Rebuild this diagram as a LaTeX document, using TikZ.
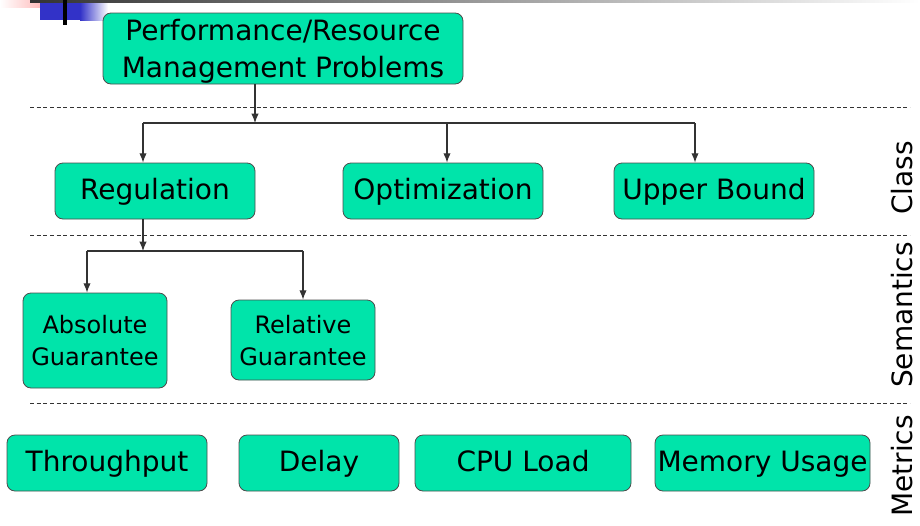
\documentclass[tikz,border=0pt]{standalone}
\usepackage{fontspec}
\setmainfont{DejaVu Sans}
\usetikzlibrary{arrows.meta}
\definecolor{boxGreen}{RGB}{0,228,170}
\definecolor{slideBlue}{RGB}{50,50,200}
\newcommand{\bigText}{\fontsize{21}{28}\selectfont}
\newcommand{\smallText}{\fontsize{18}{24}\selectfont}
\newcommand{\lineLeft}{30}
\newcommand{\lineRight}{910}
\newcommand{\labelX}{902}

\begin{document}
\begin{tikzpicture}[x=0.75pt, y=-0.75pt,
    problem/.style={draw=black!70, line width=0.6pt, fill=boxGreen, rounded corners=6pt,
                    inner sep=0pt, align=center, text depth=0pt, font=\bigText},
    oneline/.style={problem, text height=1.2em},
    subproblem/.style={problem, font=\smallText},
    link/.style={draw=black!80, line width=0.8pt},
    arrowlink/.style={link, -{Latex[length=7pt,width=5.5pt]}},
    divider/.style={draw=black!80, line width=0.6pt, dash pattern=on 3pt off 2pt},
    layer/.style={rotate=90, font=\bigText, inner sep=0pt}]

   \useasboundingbox (0,0) rectangle (920,525);

   % slide decoration, top left
   \shade[left color=white, right color=red!35] (0,0) rectangle (55,7);
   \draw[red!60, line width=0.5pt] (45,0) -- (55,7);
   \shade[left color=black!80, right color=white] (30,0) rectangle (920,2);
   \fill[slideBlue] (40,3) rectangle (80,20);
   \shade[left color=slideBlue, right color=white] (80,3) rectangle (108,20);
   \fill[black] (63,0) rectangle (67,25);

   % class
   \node[problem, minimum width=270pt, minimum height=53.25pt] (problems) at (283,48.5)
        {Performance/Resource\\Management Problems};
   \node[oneline, minimum width=150pt, minimum height=42pt] (regulation) at (155,191) {Regulation};
   \node[oneline, minimum width=150pt, minimum height=42pt] (optimization) at (443,191) {Optimization};
   \node[oneline, minimum width=150pt, minimum height=42pt] (upperbound) at (714,191) {Upper Bound};

   % semantics
   \node[subproblem, minimum width=108pt, minimum height=71.25pt] (absolute) at (95,340.5)
        {Absolute\\Guarantee};
   \node[subproblem, minimum width=108pt, minimum height=60pt] (relative) at (303,340)
        {Relative\\Guarantee};

   % metrics
   \node[oneline, minimum width=150pt, minimum height=42pt] (throughput) at (107,463) {Throughput};
   \node[oneline, minimum width=120pt, minimum height=42pt] (delay) at (319,463) {Delay};
   \node[oneline, minimum width=162pt, minimum height=42pt] (cpuload) at (523,463) {CPU Load};
   \node[oneline, minimum width=161.25pt, minimum height=42pt] (memory) at (762.5,463) {Memory Usage};

   % layer names
   \node[layer] (classlabel) at (\labelX,178) {Class};
   \node[layer] (semanticslabel) at (\labelX,315) {Semantics};
   \node[layer] (metricslabel) at (\labelX,466) {Metrics};

   \draw[divider] (\lineLeft,107) -- (\lineRight,107);
   \draw[divider] (\lineLeft,235) -- (\lineRight,235);
   \draw[divider] (\lineLeft,403) -- (\lineRight,403);

   % tree connectors
   \coordinate (classbus) at (255,123);
   \coordinate (regin) at (143,123);
   \coordinate (optin) at (447,123);
   \coordinate (ubin) at (695,123);
   \draw[arrowlink] (problems.south -| classbus) -- (classbus);
   \draw[link] (regin) -- (ubin);
   \draw[arrowlink] (regin) -- (regin |- regulation.north);
   \draw[arrowlink] (optin) -- (optin |- optimization.north);
   \draw[arrowlink] (ubin) -- (ubin |- upperbound.north);

   \coordinate (semanticsbus) at (143,251);
   \coordinate (absin) at (87,251);
   \coordinate (relin) at (303,251);
   \draw[arrowlink] (regulation.south -| semanticsbus) -- (semanticsbus);
   \draw[link] (absin) -- (relin);
   \draw[arrowlink] (absin) -- (absin |- absolute.north);
   \draw[arrowlink] (relin) -- (relin |- relative.north);
\end{tikzpicture}
\end{document}
